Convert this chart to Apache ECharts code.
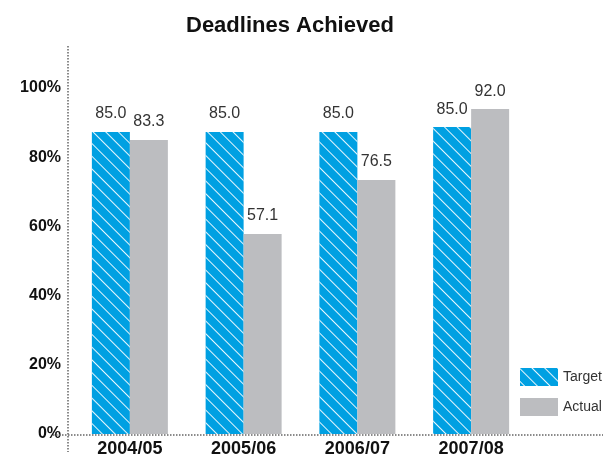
<!DOCTYPE html>
<html>
<head>
<meta charset="utf-8">
<script src="https://cdn.jsdelivr.net/npm/echarts@6/dist/echarts.min.js"></script>
<style>
  html, body { margin: 0; padding: 0; background: #fff; }
  #chart { width: 603px; height: 459px; }
</style>
</head>
<body>
<div id="chart"></div>
<script>
// data
var categories = ['2004/05', '2005/06', '2006/07', '2007/08']
// bar heights as drawn (the printed labels do not quite match them)
var targetValues = [87.3, 87.3, 87.3, 88.7]
var actualValues = [85.0, 57.8, 73.4, 93.9]
// printed value labels
var targetLabels = ['85.0', '85.0', '85.0', '85.0']
var actualLabels = ['83.3', '57.1', '76.5', '92.0']
var yTicks = [0, 20, 40, 60, 80, 100]

var font = "'Liberation Sans', Arial, sans-serif"
var dotted = { stroke: '#666', lineWidth: 1.5, lineDash: [1.5, 1.5] }

var chart = echarts.init(document.getElementById('chart'))
var option = {
  animation: false,
  title: {
    text: 'Deadlines Achieved',
    left: 181,
    top: 10,
    textStyle: { fontFamily: font, fontSize: 22, fontWeight: 'bold', color: '#111' }
  },
  legend: {
    orient: 'vertical',
    left: 520,
    top: 368,
    padding: 0,
    itemWidth: 38,
    itemHeight: 18,
    itemGap: 12,
    icon: 'rect',
    textStyle: { fontFamily: font, fontSize: 14, color: '#333' },
    data: ['Target', 'Actual']
  },
  grid: { left: 73, right: 75, top: 88, bottom: 25 },
  xAxis: {
    type: 'category',
    data: categories,
    axisLine: { show: false },
    axisTick: { show: false },
    axisLabel: { fontFamily: font, fontSize: 18, fontWeight: 'bold', color: '#111', margin: 6 }
  },
  yAxis: {
    type: 'value',
    min: yTicks[0],
    max: yTicks[yTicks.length - 1],
    interval: 20,
    splitLine: { show: false },
    axisLine: { show: false },
    axisTick: { show: false },
    axisLabel: {
      fontFamily: font, fontSize: 16, fontWeight: 'bold', color: '#111', margin: 12,
      padding: [0, 0, 8, 0],
      formatter: function (v) { return v + '%' }
    }
  },
  series: [
    {
      name: 'Target',
      type: 'bar',
      barWidth: 38,
      barGap: '0%',
      data: targetValues,
      itemStyle: {
        color: '#00a0e2',
        decal: {
          symbol: 'rect',
          symbolSize: 1,
          color: 'rgba(255,255,255,0.9)',
          dashArrayX: [1, 0],
          dashArrayY: [1, 7.5],
          rotation: Math.PI / 4
        }
      },
      label: {
        show: true,
        position: 'top',
        distance: 10,
        fontFamily: font,
        fontSize: 16,
        color: '#333',
        formatter: function (p) { return targetLabels[p.dataIndex] }
      }
    },
    {
      name: 'Actual',
      type: 'bar',
      barWidth: 38,
      data: actualValues,
      itemStyle: { color: '#bcbdc0' },
      label: {
        show: true,
        position: 'top',
        distance: 10,
        fontFamily: font,
        fontSize: 16,
        color: '#333',
        formatter: function (p) { return actualLabels[p.dataIndex] }
      }
    }
  ],
  // dotted axis lines run past the plot area in the original
  graphic: [
    { type: 'line', shape: { x1: 68, y1: 46, x2: 68, y2: 452 }, style: dotted, z: 10 },
    { type: 'line', shape: { x1: 53, y1: 435, x2: 603, y2: 435 }, style: dotted, z: 10 }
  ]
}
chart.setOption(option)
</script>
</body>
</html>
